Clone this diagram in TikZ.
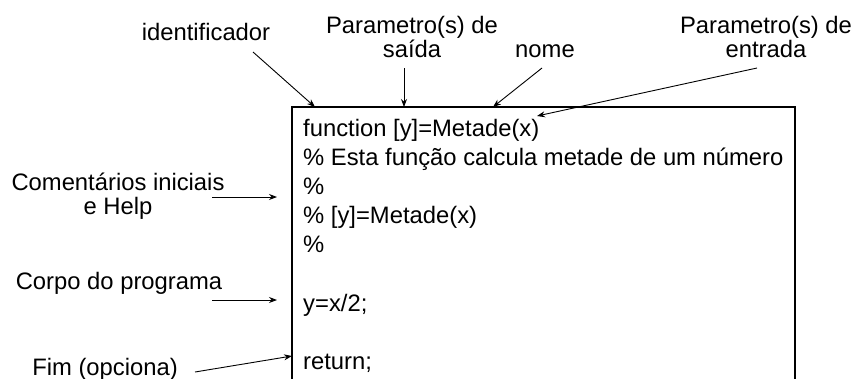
\documentclass[tikz,border=0pt]{standalone}
\usepackage{fontspec}
\setmainfont{Liberation Sans}
\usetikzlibrary{arrows.meta}
\begin{document}
\begin{tikzpicture}[x=1pt,y=-1pt,
  lbl/.style={anchor=base,inner sep=0pt,align=center,
    font=\fontsize{23.8}{23.5}\selectfont},
  code/.style={anchor=base west,inner sep=0pt,
    font=\fontsize{23.8}{29}\selectfont},
  pointer/.style={draw=black,line width=0.9pt,
    -{Stealth[length=8pt,width=6pt]}}]
\useasboundingbox (0,0) rectangle (863,378);
\clip (0,0) rectangle (863,378);
\fill[white] (0,0) rectangle (863,378);

% listing frame (open at the bottom)
\draw[line width=1.1pt] (292,400) -- (292,107) -- (795,107) -- (795,400);

% listing lines
\node[code] (c1) at (303,136) {function [y]=Metade(x)};
\node[code] (c2) at (303,165.2) {\% Esta função calcula metade de um número};
\node[code] (c3) at (303,194.4) {\%};
\node[code] (c4) at (303,223.6) {\% [y]=Metade(x)};
\node[code] (c5) at (303,252.8) {\%};
\node[code] (c6) at (303,311.2) {y=x/2;};
\node[code] (c7) at (303,369.6) {return;};

% annotations (base = baseline of the last line)
\node[lbl] (ident) at (206,40) {identificador};
\node[lbl] (psaida) at (412,57) {Parametro(s) de\\saída};
\node[lbl] (nome) at (545,57) {nome};
\node[lbl] (pentr) at (766,57) {Parametro(s) de\\entrada};
\node[lbl] (coment) at (118,214) {Comentários iniciais\\e Help};
\node[lbl] (corpo) at (119,289) {Corpo do programa};
\node[lbl] (fim) at (105,375) {Fim (opciona)};

% arrow ends
\coordinate (a1s) at (253,52);  \coordinate (a1e) at (315,107);
\coordinate (a2s) at (404,68);  \coordinate (a2e) at (404,107);
\coordinate (a3s) at (542,68);  \coordinate (a3e) at (493,107);
\coordinate (a4s) at (757,68);  \coordinate (a4e) at (537,116);
\coordinate (a5s) at (212,197); \coordinate (a5e) at (277,197);
\coordinate (a6s) at (212,300); \coordinate (a6e) at (277,300);
\coordinate (a7s) at (195,372); \coordinate (a7e) at (292,356);

\draw[pointer] (a1s) -- (a1e);
\draw[pointer] (a2s) -- (a2e);
\draw[pointer] (a3s) -- (a3e);
\draw[pointer] (a4s) -- (a4e);
\draw[pointer] (a5s) -- (a5e);
\draw[pointer] (a6s) -- (a6e);
\draw[pointer] (a7s) -- (a7e);
\end{tikzpicture}
\end{document}
